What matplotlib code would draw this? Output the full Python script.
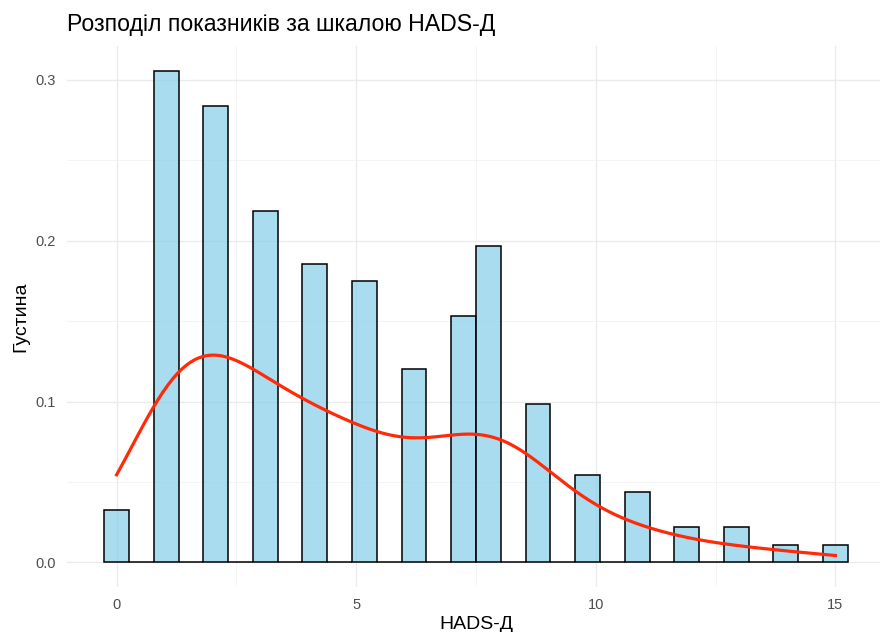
import numpy as np
import matplotlib.pyplot as plt
from matplotlib.colors import to_rgba
from matplotlib.ticker import MultipleLocator

plt.rcParams['font.family'] = ['Liberation Sans', 'DejaVu Sans']

# HADS-D scores and how many respondents got each
scores = np.arange(0, 16)
counts = [3, 28, 26, 20, 17, 16, 11, 14, 18, 9, 5, 4, 2, 2, 1, 1]

title = "Розподіл показників за шкалою HADS-Д"
x_label = "HADS-Д"
y_label = "Густина"
x_ticks = [0, 5, 10, 15]
y_ticks = [0.0, 0.1, 0.2, 0.3]

values = np.repeat(scores, counts).astype(float)
n = len(values)

# 30 bins centred on the data range, as ggplot's geom_histogram does
lo, hi = values.min(), values.max()
width = (hi - lo) / 29
edges = lo - width / 2 + width * np.arange(31)

# gaussian kde with R's bw.nrd0 bandwidth
sd = values.std(ddof=1)
q75, q25 = np.percentile(values, [75, 25])
bw = 0.9 * min(sd, (q75 - q25) / 1.34) * n ** -0.2
grid = np.linspace(lo, hi, 512)
dens = np.exp(-0.5 * ((grid[:, None] - values[None, :]) / bw) ** 2).sum(axis=1)
dens /= n * bw * np.sqrt(2 * np.pi)

fig = plt.figure(figsize=(8.8, 6.32), dpi=100)
ax = fig.add_axes([67 / 880, 1 - 587 / 632, 818 / 880, 541 / 632])

ax.hist(values, bins=edges, density=True,
        facecolor=to_rgba('skyblue', 0.7), edgecolor='black', linewidth=1.1,
        zorder=2)
ax.plot(grid, dens, color='#FF2A0A', lw=2.3, zorder=3)

heights, _ = np.histogram(values, bins=edges, density=True)
xr = edges[-1] - edges[0]
ax.set_xlim(edges[0] - 0.05 * xr, edges[-1] + 0.05 * xr)
ax.set_ylim(-0.05 * heights.max(), heights.max() * 1.05)

ax.set_xticks(x_ticks)
ax.set_yticks(y_ticks)
ax.set_yticklabels([f"{t:.1f}" for t in y_ticks])
ax.xaxis.set_minor_locator(MultipleLocator(2.5))
ax.yaxis.set_minor_locator(MultipleLocator(0.05))
ax.grid(which='major', color='#EBEBEB', lw=1.0, zorder=0)
ax.grid(which='minor', color='#F3F3F3', lw=0.6, zorder=0)
ax.set_axisbelow(True)
for s in ax.spines.values():
    s.set_visible(False)
ax.tick_params(which='both', length=0, colors='#4D4D4D', labelsize=10.5, pad=8)

ax.set_xlabel(x_label, fontsize=14, color='black', labelpad=3)
ax.set_ylabel(y_label, fontsize=14, color='black', labelpad=4)
fig.text(67 / 880, 1 - 25 / 632, title, fontsize=16.7, va='center', ha='left')

fig.savefig('out.png', dpi=100)
